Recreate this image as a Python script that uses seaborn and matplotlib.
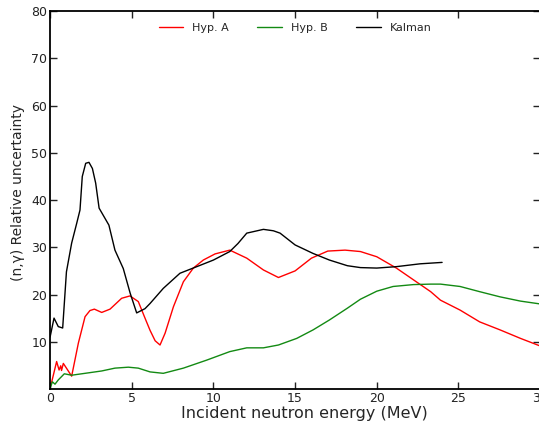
import numpy as np
import pandas as pd
import matplotlib
matplotlib.use("Agg")
import matplotlib.pyplot as plt
import seaborn as sns

# Relative (n,gamma) uncertainty (%) versus incident neutron energy (MeV)
energy_a = [0.0, 0.1, 0.4, 0.55, 0.65, 0.7, 0.81, 1.0, 1.32, 1.73, 2.14, 2.44, 2.71,
            3.16, 3.67, 4.38, 4.89, 5.4, 5.81, 6.12, 6.43, 6.73, 7.04, 7.55, 8.16,
            8.77, 9.38, 10.1, 11.0, 12.04, 13.06, 13.98, 15.0, 16.0, 17.0, 18.06,
            19.0, 20.0, 21.2, 22.25, 23.3, 23.9, 25.1, 26.3, 27.55, 28.8, 30.0]
hyp_a = [0.5, 1.5, 5.8, 4.0, 4.9, 3.9, 5.4, 4.4, 2.7, 9.7, 15.3, 16.6, 16.9,
         16.2, 16.9, 19.2, 19.7, 18.5, 15.0, 12.4, 10.2, 9.3, 11.8, 17.4, 22.7,
         25.6, 27.3, 28.6, 29.4, 27.7, 25.2, 23.6, 25.0, 27.7, 29.2, 29.4,
         29.1, 28.0, 25.6, 23.1, 20.6, 18.8, 16.7, 14.2, 12.5, 10.7, 9.1]

energy_b = [0.0, 0.14, 0.3, 0.5, 0.7, 0.87, 1.32, 2.14, 3.16, 3.97, 4.79, 5.4,
            6.12, 6.93, 8.16, 9.59, 11.0, 12.04, 13.06, 13.98, 15.1, 16.1, 17.1,
            18.2, 19.0, 20.0, 21.0, 22.25, 23.3, 23.9, 25.1, 26.3, 27.55, 28.8, 30.0]
hyp_b = [0.1, 1.5, 1.0, 1.9, 2.6, 3.2, 2.9, 3.3, 3.8, 4.4, 4.6, 4.4,
         3.6, 3.3, 4.4, 6.1, 7.9, 8.7, 8.7, 9.3, 10.7, 12.5, 14.6,
         17.1, 19.0, 20.7, 21.7, 22.1, 22.2, 22.2, 21.7, 20.6, 19.5, 18.6, 18.0]

energy_k = [0.0, 0.24, 0.5, 0.77, 1.0, 1.32, 1.63, 1.83, 1.97, 2.18, 2.38, 2.59,
            2.79, 3.0, 3.6, 3.97, 4.48, 4.9, 5.3, 5.81, 6.12, 6.93, 7.95, 8.98,
            10.0, 11.0, 11.5, 12.04, 13.06, 13.67, 14.08, 15.0, 16.1, 17.1, 18.2,
            19.0, 20.0, 21.2, 22.65, 24.0]
kalman = [11.0, 15.0, 13.2, 12.9, 24.8, 30.9, 35.1, 37.9, 45.0, 47.8, 48.0, 46.7,
          43.6, 38.3, 34.7, 29.4, 25.5, 20.3, 16.1, 17.0, 18.1, 21.3, 24.5, 25.9,
          27.3, 29.1, 30.8, 33.0, 33.8, 33.5, 33.0, 30.5, 28.7, 27.3, 26.1,
          25.7, 25.6, 25.9, 26.5, 26.8]

series_names = ["Hyp. A", "Hyp. B", "Kalman"]
series_colors = ["#ff0000", "#138a13", "#000000"]

frames = [
    pd.DataFrame({"energy": energy_a, "unc": hyp_a, "model": series_names[0]}),
    pd.DataFrame({"energy": energy_b, "unc": hyp_b, "model": series_names[1]}),
    pd.DataFrame({"energy": energy_k, "unc": kalman, "model": series_names[2]}),
]
data = pd.concat(frames, ignore_index=True)

sns.set_style("ticks")
plt.rcParams["font.family"] = ["DejaVu Sans"]

fig = plt.figure(figsize=(5.39, 4.21), dpi=100)
ax = fig.add_axes([50.1 / 539, 32.1 / 421, 490 / 539, 377.6 / 421])

sns.lineplot(data=data, x="energy", y="unc", hue="model", hue_order=series_names,
             palette=series_colors, linewidth=1.0, sort=False, estimator=None,
             ax=ax)

ax.set_xlim(0, 30)
ax.set_ylim(0, 80)
ax.set_xticks([0, 5, 10, 15, 20, 25, 30])
ax.set_yticks([10, 20, 30, 40, 50, 60, 70, 80])
ax.tick_params(direction="in", length=5, width=1.0, labelsize=9, pad=2,
               top=True, right=True, colors="#222222", labelcolor="#222222")
for side in ax.spines.values():
    side.set_linewidth(1.3)
    side.set_color("black")

ax.set_xlabel("Incident neutron energy (MeV)", fontsize=11.5)
ax.set_ylabel("(n,γ) Relative uncertainty", fontsize=10)
ax.xaxis.set_label_coords(0.519, -0.045)
ax.yaxis.set_label_coords(-0.051, 0.52)

ax.legend(loc="upper center", ncol=3, frameon=False, fontsize=8,
          handlelength=2.2, columnspacing=2.6, bbox_to_anchor=(0.5, 0.995))

fig.savefig("out.png", dpi=100)
